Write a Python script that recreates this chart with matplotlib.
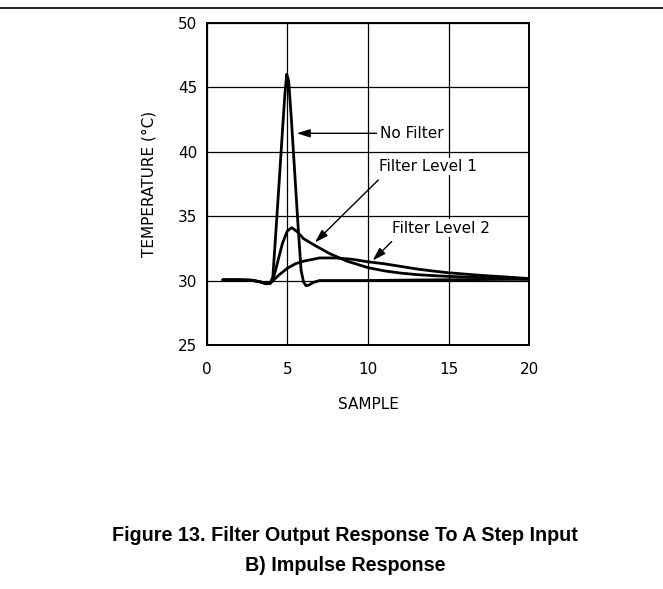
import matplotlib.pyplot as plt
from matplotlib.lines import Line2D

# values
no_filter_x = [1, 2, 2.8, 3.3, 3.7, 3.95, 4.1, 4.3, 4.5, 4.7, 4.85, 4.96, 5.08, 5.25,
               5.45, 5.65, 5.85, 6.0, 6.15, 6.35, 6.6, 7.0, 8, 10, 14, 20]
no_filter_y = [30.05, 30.05, 30.02, 29.9, 29.75, 29.8, 30.3, 34.0, 37.8, 41.7, 44.5, 46.0,
               45.5, 42.5, 38.5, 34.5, 30.8, 29.9, 29.6, 29.65, 29.85, 30.0, 30.0, 30.0,
               30.05, 30.1]

level1_x = [1, 2, 2.8, 3.3, 3.7, 3.95, 4.1, 4.25, 4.45, 4.7, 5.0, 5.27, 5.6, 6.0, 6.6,
            7.6, 8.7, 10, 11, 12, 13, 14, 15, 16.5, 18, 20]
level1_y = [30.05, 30.05, 30.02, 29.9, 29.75, 29.8, 30.1, 30.7, 31.7, 32.9, 33.85, 34.1,
            33.8, 33.25, 32.8, 32.1, 31.5, 31.0, 30.75, 30.58, 30.46, 30.38, 30.32, 30.25,
            30.2, 30.1]

level2_x = [1, 2, 2.8, 3.3, 3.7, 3.95, 4.2, 4.5, 5.0, 5.5, 6.0, 7.0, 8.0, 9.0, 10, 11,
            12, 13, 14, 15, 16, 17, 18.5, 20]
level2_y = [30.05, 30.05, 30.02, 29.9, 29.75, 29.8, 30.1, 30.45, 30.95, 31.3, 31.5, 31.75,
            31.75, 31.65, 31.45, 31.3, 31.1, 30.9, 30.74, 30.6, 30.5, 30.4, 30.28, 30.15]

x_ticks = [0, 5, 10, 15, 20]
y_ticks = [25, 30, 35, 40, 45, 50]

fig = plt.figure(figsize=(6.63, 5.89), dpi=100)
ax = fig.add_axes([0.3118, 0.4143, 0.4865, 0.5472])

for xs, ys in [(no_filter_x, no_filter_y), (level1_x, level1_y), (level2_x, level2_y)]:
    ax.plot(xs, ys, color='black', lw=2.0, solid_capstyle='round', zorder=3)

ax.set_xlim(0, 20)
ax.set_ylim(25, 50)
ax.set_xticks(x_ticks)
ax.set_yticks(y_ticks)
ax.grid(True, color='black', lw=0.9)
ax.tick_params(length=0, labelsize=11)
ax.tick_params(axis='x', pad=12)
ax.tick_params(axis='y', pad=7)
for s in ax.spines.values():
    s.set_linewidth(1.4)

ax.set_xlabel('SAMPLE', fontsize=11, labelpad=15)
ax.set_ylabel('TEMPERATURE (°C)', fontsize=11, labelpad=15)

# annotations
arrow = dict(arrowstyle='-|>,head_length=0.8,head_width=0.25', color='black', lw=1.0,
             shrinkA=0, shrinkB=0)
ax.annotate('', xy=(5.58, 41.42), xytext=(10.54, 41.42), arrowprops=arrow)
ax.text(10.75, 41.42, 'No Filter', fontsize=11, va='center', ha='left',
        bbox=dict(facecolor='white', edgecolor='none', pad=1))
ax.annotate('', xy=(6.71, 32.95), xytext=(10.64, 37.8), arrowprops=arrow)
ax.text(10.7, 38.84, 'Filter Level 1', fontsize=11, va='center', ha='left',
        bbox=dict(facecolor='white', edgecolor='none', pad=1))
ax.annotate('', xy=(10.29, 31.55), xytext=(11.47, 33.02), arrowprops=arrow)
ax.text(11.5, 34.06, 'Filter Level 2', fontsize=11, va='center', ha='left',
        bbox=dict(facecolor='white', edgecolor='none', pad=1))

# rule across the top of the page
fig.add_artist(Line2D([0, 1], [0.9864, 0.9864], transform=fig.transFigure,
                      color='black', lw=1.2))

fig.text(0.52, 0.09, 'Figure 13. Filter Output Response To A Step Input',
         family='Liberation Sans', weight='bold', fontsize=14.2, ha='center', va='center')
fig.text(0.52, 0.0407, 'B) Impulse Response',
         family='Liberation Sans', weight='bold', fontsize=14.2, ha='center', va='center')

fig.savefig('out.png', dpi=100)
